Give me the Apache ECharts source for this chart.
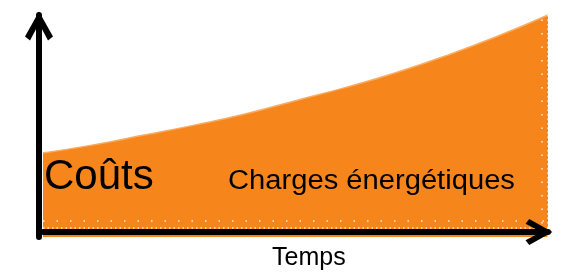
<!DOCTYPE html>
<html>
<head>
    <meta charset="utf-8">
    <title>Coûts</title>
    <script src="https://cdn.jsdelivr.net/npm/echarts@6/dist/echarts.min.js"></script>
    <style>
        html, body { margin: 0; padding: 0; background: #fff; }
        #chart { width: 563px; height: 279px; }
    </style>
</head>
<body>
    <div id="chart"></div>
    <script type="text/javascript">

        // années (axe du temps) et coûts relatifs
        var years = [0, 1, 2, 3, 4, 5, 6, 7, 8, 9, 10];
        var costs = [37.8, 41.5, 45.9, 50.4, 55.4, 61.4, 67.4, 74.1, 81.8, 90.4, 100];
        var yLabel = 'Coûts';
        var seriesLabel = 'Charges énergétiques';
        var xLabel = 'Temps';

        var orange = '#f6861c';
        // chevron ouvert pour le bout des axes
        var chevron = 'path://M14,0 L28,25 L23,29 L14,12 L5,29 L0,25 Z';

        var myChart = echarts.init(document.getElementById('chart'));

        var points = years.map(function (t, i) { return [t, costs[i]]; });

        var option = {
            animation: false,
            grid: { left: 43, right: 15, top: 15, bottom: 42 },
            xAxis: {
                type: 'value',
                min: 0,
                max: 10,
                offset: -5,
                z: 5,
                axisLine: {
                    show: true,
                    onZero: false,
                    symbol: ['none', chevron],
                    symbolSize: [26, 29],
                    symbolOffset: [0, -9],
                    lineStyle: { color: '#000', width: 6, cap: 'round' }
                },
                axisTick: { show: false },
                axisLabel: { show: false },
                splitLine: { show: false }
            },
            yAxis: {
                type: 'value',
                min: 0,
                max: 100,
                offset: 4,
                z: 5,
                axisLine: {
                    show: true,
                    onZero: false,
                    symbol: ['none', chevron],
                    symbolSize: [28, 30],
                    symbolOffset: [0, -11],
                    lineStyle: { color: '#000', width: 6, cap: 'round' }
                },
                axisTick: { show: false },
                axisLabel: { show: false },
                splitLine: { show: false }
            },
            series: [{
                name: seriesLabel,
                type: 'line',
                data: points,
                smooth: true,
                symbol: 'none',
                z: 1,
                lineStyle: { color: '#fbac62', width: 1.5 },
                areaStyle: { color: orange, opacity: 1 },
                markLine: {
                    silent: true,
                    symbol: 'none',
                    label: { show: false },
                    lineStyle: { color: '#fff', type: [1.5, 3], width: 1.5, opacity: 0.85 },
                    data: [
                        { xAxis: 10 },
                        { yAxis: 4 },
                        { xAxis: 9.88, lineStyle: { type: [1.5, 12] } },
                        { yAxis: 7.2, lineStyle: { type: [1.5, 12] } }
                    ]
                }
            }],
            graphic: [
                {
                    type: 'text',
                    z: 10,
                    x: 44, y: 177,
                    style: {
                        text: yLabel,
                        fill: '#000',
                        font: '42px "Liberation Sans", Arial, sans-serif',
                        verticalAlign: 'middle'
                    }
                },
                {
                    type: 'text',
                    z: 10,
                    x: 228, y: 182,
                    scaleX: 1.08,
                    style: {
                        text: seriesLabel,
                        fill: '#000',
                        font: '27px "Liberation Sans", Arial, sans-serif',
                        verticalAlign: 'middle'
                    }
                },
                {
                    type: 'text',
                    z: 10,
                    x: 272, y: 258,
                    style: {
                        text: xLabel,
                        fill: '#000',
                        font: '25px "Liberation Sans", Arial, sans-serif',
                        verticalAlign: 'middle'
                    }
                }
            ]
        };

        myChart.setOption(option);
    </script>
</body>
</html>
